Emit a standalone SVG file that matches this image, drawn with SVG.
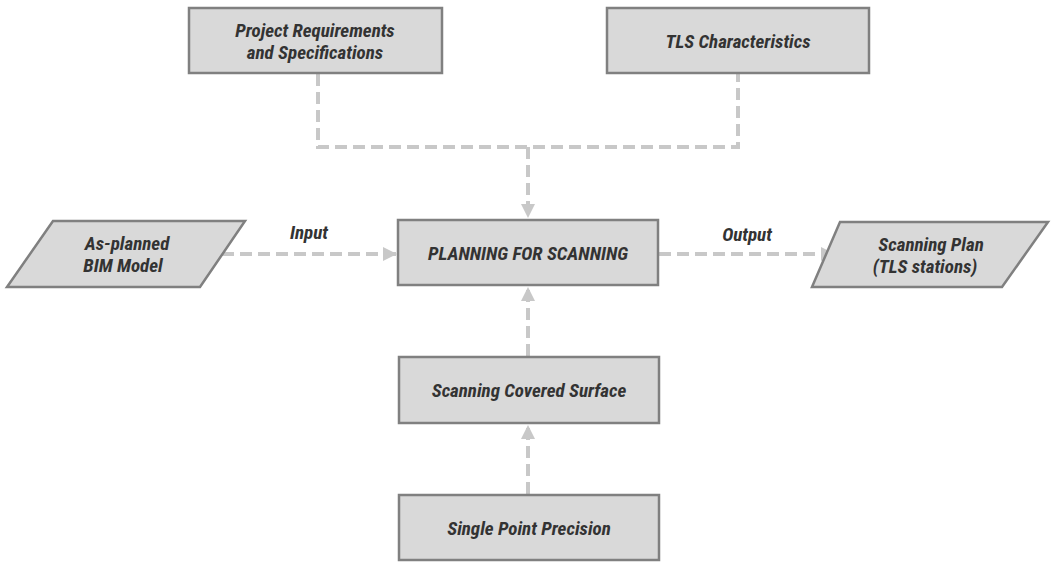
<svg xmlns="http://www.w3.org/2000/svg" width="1054" height="562" viewBox="0 0 1054 562">
  <style>
    .box { fill: #d9d9d9; stroke: #808080; stroke-width: 2.5; }
    .lbl { font-family: "Liberation Sans Narrow", "Roboto Condensed", "Liberation Sans", sans-serif; font-stretch: condensed; font-weight: bold; font-style: italic; font-size: 19px; fill: #333333; text-anchor: middle; }
    .link { fill: none; stroke: #c8c8c8; stroke-width: 4; stroke-dasharray: 12 6; }
  </style>
  <defs>
    <marker id="arrow" viewBox="0 0 10 10" refX="10" refY="5" markerWidth="3.5" markerHeight="3.5" orient="auto" markerUnits="strokeWidth">
      <path d="M0,0 L10,5 L0,10 z" fill="#c8c8c8"/>
    </marker>
  </defs>
  <rect width="1054" height="562" fill="#ffffff"/>

  <g id="connectors">
    <path class="link" d="M318,74 V147 H738 V74"/>
    <path class="link" d="M528,147 V218" marker-end="url(#arrow)"/>
    <path class="link" d="M222,254 H397" marker-end="url(#arrow)"/>
    <path class="link" d="M659,254 H835" marker-end="url(#arrow)"/>
    <path class="link" d="M528,356 V287" marker-end="url(#arrow)"/>
    <path class="link" d="M528,494 V425" marker-end="url(#arrow)"/>
    <text class="lbl" x="309" y="239">Input</text>
    <text class="lbl" x="747" y="241">Output</text>
  </g>

  <g id="project-requirements">
    <rect class="box" x="189" y="8" width="253" height="65"/>
    <text class="lbl" x="315" y="37">Project Requirements</text>
    <text class="lbl" x="315" y="59">and Specifications</text>
  </g>

  <g id="tls-characteristics">
    <rect class="box" x="607" y="8" width="262" height="65"/>
    <text class="lbl" x="738" y="48">TLS Characteristics</text>
  </g>

  <g id="bim-model">
    <polygon class="box" points="53,221 245,221 200,287 7,287"/>
    <text class="lbl" x="127" y="250">As-planned</text>
    <text class="lbl" x="123" y="272">BIM Model</text>
  </g>

  <g id="planning">
    <rect class="box" x="398" y="220" width="260" height="65"/>
    <text class="lbl" x="528" y="260">PLANNING FOR SCANNING</text>
  </g>

  <g id="scanning-plan">
    <polygon class="box" points="840,222 1048,222 1002,287 812,287"/>
    <text class="lbl" x="931" y="251">Scanning Plan</text>
    <text class="lbl" x="925" y="273">(TLS stations)</text>
  </g>

  <g id="covered-surface">
    <rect class="box" x="399" y="357" width="260" height="66"/>
    <text class="lbl" x="529" y="397">Scanning Covered Surface</text>
  </g>

  <g id="point-precision">
    <rect class="box" x="399" y="495" width="260" height="65"/>
    <text class="lbl" x="529" y="535">Single Point Precision</text>
  </g>
</svg>
